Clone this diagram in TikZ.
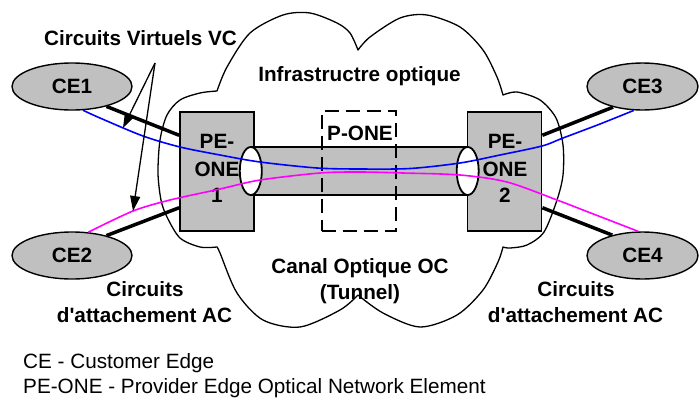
\documentclass[tikz,border=0pt]{standalone}
\usepackage{fontspec}
\setmainfont{Liberation Sans}[Ligatures=TeXOff]
\usetikzlibrary{arrows.meta,calc,shapes.geometric}
\definecolor{boxgray}{RGB}{192,192,192}
\definecolor{vcblue}{RGB}{0,0,255}
\definecolor{vcmagenta}{RGB}{255,0,255}

\begin{document}
\begin{tikzpicture}[x=1pt,y=-1pt,
  bigfont/.style={font=\bfseries\fontsize{20.7}{26}\selectfont},
  lbl/.style={bigfont, inner sep=0pt, anchor=base},
  legend/.style={font=\fontsize{20.7}{26}\selectfont, inner sep=0pt, anchor=base west},
  cenode/.style={ellipse, draw, line width=1.4pt, fill=boxgray, minimum width=120pt,
    minimum height=47pt, inner sep=0pt, bigfont},
  penode/.style={rectangle, draw, line width=1.8pt, fill=boxgray, minimum width=74pt,
    minimum height=119pt, inner sep=0pt},
  tubebody/.style={rectangle, fill=boxgray, draw=none, minimum width=216.5pt,
    minimum height=48pt, inner sep=0pt},
  tubeline/.style={line width=1.8pt},
  tubeend/.style={ellipse, draw, line width=1.8pt, fill=white, minimum width=22pt,
    minimum height=48pt, inner sep=0pt},
  pbox/.style={rectangle, draw, line width=1.8pt, dash pattern=on 14pt off 7pt,
    minimum width=74.3pt, minimum height=120.3pt, inner sep=0pt},
  cloudline/.style={line width=1.3pt, line join=round},
  attach/.style={line width=3.5pt},
  vcline/.style={line width=1.6pt},
  vcarrow/.style={line width=1.3pt, -{Triangle[length=15pt,width=10pt]}}
]
\useasboundingbox (0,0) rectangle (699,397);

% optical infrastructure cloud
\draw[cloudline]
  plot[smooth] coordinates {(217,91) (227,67) (250,33) (283,15) (310,13) (337,23) (350,33) (358,50)}
  -- plot[smooth] coordinates {(358,50) (370,37) (400,18) (427,15) (460,27) (483,50) (497,77) (503,95)}
  -- plot[smooth] coordinates {(503,95) (517,92) (540,100) (556,118) (563,145) (563,175) (557,200) (544,232) (527,245) (510,248) (503,247)}
  -- plot[smooth] coordinates {(503,247) (498,262) (483,290) (457,315) (420,327) (383,313) (358,295)}
  -- plot[smooth] coordinates {(358,295) (340,310) (300,327) (263,320) (237,293) (220,253) (217,247)}
  -- plot[smooth] coordinates {(217,247) (200,247) (180,238) (167,217) (161,200) (158,173) (160,140) (167,115) (180,100) (200,93) (217,91)}
  -- cycle;

% customer edges
\node[cenode] (ce1) at (72,86.5) {CE1};
\node[cenode] (ce2) at (72,255.5) {CE2};
\node[cenode, minimum width=111pt] (ce3) at (642.5,86.5) {CE3};
\node[cenode, minimum width=111pt] (ce4) at (642.5,255.5) {CE4};

% provider edges
\node[penode] (pe1) at (217,171.5) {};
\node[penode] (pe2) at (504.5,171.5) {};

% attachment circuits
\draw[attach] (ce1.-30) -- ($(pe1.north west)!0.2!(pe1.south west)$);
\draw[attach] (ce2.30) -- ($(pe1.north west)!0.8!(pe1.south west)$);
\draw[attach] (ce3.-145) -- ($(pe2.north east)!0.2!(pe2.south east)$);
\draw[attach] (ce4.146) -- ($(pe2.north east)!0.8!(pe2.south east)$);

% optical channel (tunnel)
\node[tubebody] (oc) at (359.25,171) {};
\draw[tubeline] (oc.north west) -- (oc.north east) (oc.south west) -- (oc.south east);
\node[tubeend] (end1) at (oc.west) {};
\node[tubeend] (end2) at (oc.east) {};

% core element
\node[pbox] (pone) at (358.85,170.85) {};
\node[lbl] (ponelbl) at (360,140) {P-ONE};

% provider edge labels
\node[lbl] (pe1a) at (217,148.3) {PE-};
\node[lbl] (pe1b) at (217,176.7) {ONE};
\node[lbl] (pe1c) at (217,202.3) {1};
\node[lbl] (pe2a) at (505,148.3) {PE-};
\node[lbl] (pe2b) at (505,176.7) {ONE};
\node[lbl] (pe2c) at (505,202.3) {2};

% virtual circuits
\draw[vcline, vcblue] plot[smooth] coordinates {(ce1.-65) (100,118) (143,136) (180,147) (220,155) (260,162) (317,168) (360,169) (410,168.5) (460,163) (500,155) (542,146) (563,138) (600,124) (ce3.-110)};
\draw[vcline, vcmagenta] plot[smooth] coordinates {(ce2.55) (133,211) (170,200) (220,189) (260,180) (320,173) (360,172) (403,173) (460,175) (507,182) (557,200) (583,210) (ce4.100)};

% labels
\node[lbl] (vclbl) at (140.5,45) {Circuits Virtuels VC};
\coordinate (vcfork) at (155,63);
\coordinate (vctip1) at (123,128);
\coordinate (vctip2) at (133,211);
\draw[vcarrow] (vcfork) -- (vctip1);
\draw[vcarrow] (vcfork) -- (vctip2);

\node[lbl] (infra) at (359.5,81) {Infrastructre optique};
\node[lbl] (canal1) at (360,273) {Canal Optique OC};
\node[lbl] (canal2) at (360,299) {(Tunnel)};
\node[lbl] (acl1) at (145,296.7) {Circuits};
\node[lbl] (acl2) at (144.5,322.7) {d'attachement AC};
\node[lbl] (acr1) at (576,296.7) {Circuits};
\node[lbl] (acr2) at (575.5,322.7) {d'attachement AC};

% legend
\node[legend] (leg1) at (23,368) {CE - Customer Edge};
\node[legend] (leg2) at (23,393) {PE-ONE - Provider Edge Optical Network Element};
\end{tikzpicture}
\end{document}
